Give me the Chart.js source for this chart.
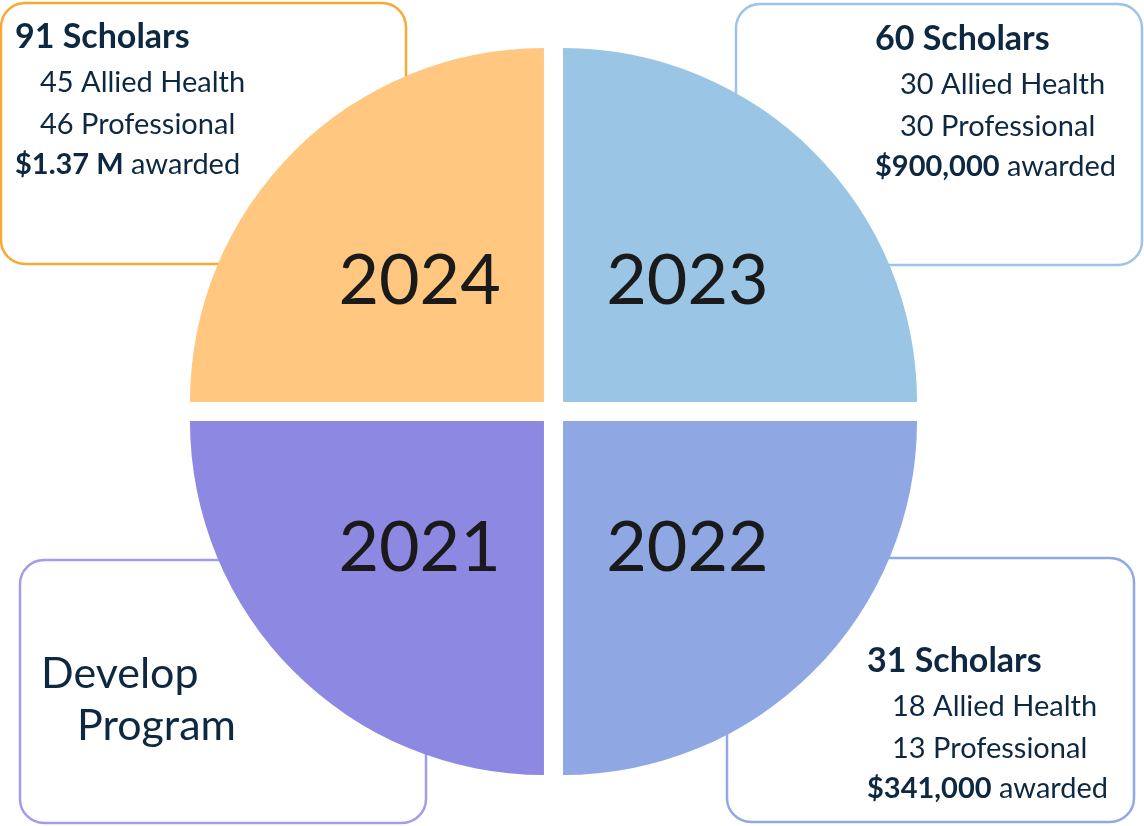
<!DOCTYPE html>
<html>
<head>
<meta charset="utf-8">
<title>Scholars by year</title>
<script src="https://cdn.jsdelivr.net/npm/chart.js@4.4.1/dist/chart.umd.min.js"></script>
<style>
  html, body { margin: 0; padding: 0; background: #fff; }
  #wrap { width: 1144px; height: 826px; position: relative; }
</style>
</head>
<body>
<div id="wrap"><canvas id="yearsChart" width="1144" height="826"></canvas></div>
<script>
// quadrants in clockwise order starting at 12 o'clock
const years = ['2023', '2022', '2021', '2024'];
const shares = [1, 1, 1, 1];
const scholars = [60, 31, null, 91];
const alliedHealth = [30, 18, null, 45];
const professional = [30, 13, null, 46];
const awarded = ['$900,000', '$341,000', null, '$1.37 M'];
const notes = [null, null, ['Develop', 'Program'], null];

const sliceColors = ['#9AC5E4', '#8FA7E3', '#8D88E2', '#FFC77F'];
const boxColors = ['#9DC4E7', '#8FA8E8', '#A29CEB', '#F8A833'];
const ink = '#0E2841';
const fontFamily = 'Lato, "Open Sans", sans-serif';

// callout boxes behind the pie (x, y, w, h, text anchor)
const boxes = [
  { x: 736, y: 4,   w: 406, h: 261, tx: 875, ty: 50 },
  { x: 727, y: 558, w: 407, h: 264, tx: 867, ty: 672 },
  { x: 20,  y: 560, w: 406, h: 263, tx: 41,  ty: 688 },
  { x: 1,   y: 3,   w: 405, h: 261, tx: 15,  ty: 48 }
];

function roundRect(ctx, x, y, w, h, r) {
  ctx.beginPath();
  ctx.moveTo(x + r, y);
  ctx.lineTo(x + w - r, y);
  ctx.arcTo(x + w, y, x + w, y + r, r);
  ctx.lineTo(x + w, y + h - r);
  ctx.arcTo(x + w, y + h, x + w - r, y + h, r);
  ctx.lineTo(x + r, y + h);
  ctx.arcTo(x, y + h, x, y + h - r, r);
  ctx.lineTo(x, y + r);
  ctx.arcTo(x, y, x + r, y, r);
  ctx.closePath();
}

const calloutPlugin = {
  id: 'callouts',
  beforeDatasetsDraw(chart) {
    const ctx = chart.ctx;
    ctx.save();
    boxes.forEach((b, i) => {
      roundRect(ctx, b.x, b.y, b.w, b.h, 24);
      ctx.fillStyle = '#fff';
      ctx.fill();
      ctx.lineWidth = 2.5;
      ctx.strokeStyle = boxColors[i];
      ctx.stroke();

      ctx.fillStyle = ink;
      ctx.textBaseline = 'alphabetic';
      ctx.textAlign = 'left';
      if (notes[i]) {
        ctx.font = '43px ' + fontFamily;
        ctx.fillText(notes[i][0], b.tx, b.ty);
        ctx.fillText(notes[i][1], b.tx + 36, b.ty + 52);
        return;
      }
      ctx.font = 'bold 34px ' + fontFamily;
      ctx.fillText(scholars[i] + ' Scholars', b.tx, b.ty);
      ctx.font = '29px ' + fontFamily;
      ctx.fillText(alliedHealth[i] + ' Allied Health', b.tx + 25, b.ty + 44);
      ctx.fillText(professional[i] + ' Professional', b.tx + 25, b.ty + 86);
      ctx.font = 'bold 29px ' + fontFamily;
      ctx.fillText(awarded[i], b.tx, b.ty + 126);
      const w = ctx.measureText(awarded[i]).width;
      ctx.font = '29px ' + fontFamily;
      ctx.fillText(' awarded', b.tx + w, b.ty + 126);
    });
    ctx.restore();
  },
  afterDatasetsDraw(chart) {
    const ctx = chart.ctx;
    const meta = chart.getDatasetMeta(0);
    ctx.save();
    ctx.font = '70px ' + fontFamily;
    ctx.fillStyle = '#1A1A1A';
    ctx.textAlign = 'center';
    ctx.textBaseline = 'alphabetic';
    meta.data.forEach((arc, i) => {
      const mid = (arc.startAngle + arc.endAngle) / 2;
      const r = arc.outerRadius * 0.535;
      const x = arc.x + Math.cos(mid) * r;
      const y = arc.y + Math.sin(mid) * r;
      ctx.fillText(years[i], x, y + 26);
    });
    ctx.restore();
  }
};

const ctx = document.getElementById('yearsChart').getContext('2d');
const yearsChart = new Chart(ctx, {
  type: 'pie',
  data: {
    labels: years,
    datasets: [{
      data: shares,
      backgroundColor: sliceColors,
      borderWidth: 0,
      offset: 54,
      hoverOffset: 54
    }]
  },
  options: {
    responsive: false,
    animation: false,
    radius: 354,
    layout: { padding: { left: 0, right: 37, top: 0, bottom: 3 } },
    plugins: {
      legend: { display: false },
      tooltip: { enabled: false }
    }
  },
  plugins: [calloutPlugin]
});
</script>
</body>
</html>
